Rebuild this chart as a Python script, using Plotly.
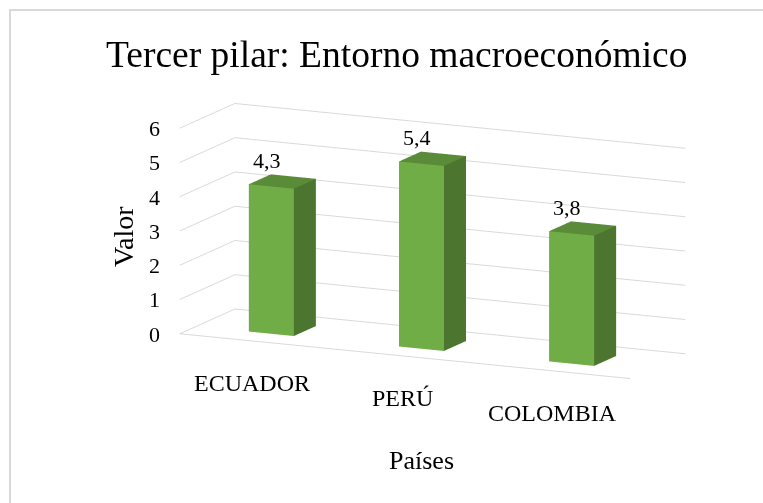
import math
import plotly.graph_objects as go

# ---- data ----
categories = ["ECUADOR", "PERÚ", "COLOMBIA"]
values = [4.3, 5.4, 3.8]
z_ticks = [0, 1, 2, 3, 4, 5, 6]

FRONT = "#70AD47"
SIDE = "#4C7530"
TOP = "#5A8B38"
FONT = "Liberation Serif, Times New Roman, serif"

bar_half = 0.15
depth0, depth1 = 0.3, 0.7

fig = go.Figure()

for i, v in enumerate(values):
    x0, x1 = i - bar_half, i + bar_half
    y0, y1 = depth0, depth1
    xs = [x0, x1, x1, x0, x0, x1, x1, x0]
    ys = [y0, y0, y1, y1, y0, y0, y1, y1]
    zs = [0, 0, 0, 0, v, v, v, v]
    I = [0, 0, 4, 4, 0, 0, 3, 3, 0, 0, 1, 1]
    J = [1, 2, 5, 6, 1, 5, 2, 6, 3, 7, 2, 6]
    K = [2, 3, 6, 7, 5, 4, 6, 7, 7, 4, 6, 5]
    fc = [FRONT, FRONT, TOP, TOP, FRONT, FRONT, SIDE, SIDE, SIDE, SIDE, SIDE, SIDE]
    fig.add_trace(go.Mesh3d(
        x=xs, y=ys, z=zs, i=I, j=J, k=K, facecolor=fc,
        flatshading=True,
        lighting=dict(ambient=1, diffuse=0, specular=0, roughness=1, fresnel=0),
        hoverinfo="skip", showscale=False,
    ))

alpha = math.radians(25.2)
beta = math.radians(12.2)
k = 2.5
eye = dict(x=k * math.cos(beta) * math.sin(alpha),
           y=-k * math.cos(beta) * math.cos(alpha),
           z=k * math.sin(beta))

s = 2.75
axis_common = dict(showbackground=False, showspikes=False, title=dict(text=""),
                   zeroline=False, showticklabels=False, ticks="")

txt = dict(family=FONT, color="#000000")
scene_ann = []
for t in z_ticks:
    scene_ann.append(dict(x=-0.5, y=0, z=t, text=str(t), showarrow=False,
                          xanchor="right", yanchor="middle", xshift=-17,
                          font=dict(txt, size=22)))
for i, c in enumerate(categories):
    scene_ann.append(dict(x=i, y=0, z=0, text=c, showarrow=False,
                          xanchor="center", yanchor="top", yshift=-26, xshift=-2,
                          font=dict(txt, size=24)))
for i, v in enumerate(values):
    scene_ann.append(dict(x=i, y=depth0, z=v, text=f"{v:.1f}".replace(".", ","),
                          showarrow=False, xanchor="center", yanchor="bottom", yshift=12,
                          xshift=-4, font=dict(txt, size=22)))

fig.update_layout(
    width=763, height=503,
    margin=dict(l=0, r=0, t=0, b=0),
    paper_bgcolor="white",
    showlegend=False,
    title=dict(text="Tercer pilar: Entorno macroeconómico",
               font=dict(family=FONT, size=37.5, color="#000000"),
               x=0.52, xanchor="center", y=0.866, yanchor="bottom"),
    scene=dict(
        domain=dict(x=[0.154, 0.979], y=[0.16, 0.88]),
        aspectmode="manual",
        aspectratio=dict(x=1.0 * s, y=0.26 * s, z=0.4225 * s),
        camera=dict(eye=eye, up=dict(x=0, y=0, z=1), center=dict(x=0, y=0, z=0),
                    projection=dict(type="orthographic")),
        xaxis=dict(axis_common, range=[-0.5, 2.5], showgrid=False,
                   showline=True, linecolor="#d9d9d9", linewidth=2),
        yaxis=dict(axis_common, range=[0, 1], showgrid=False, showline=False),
        zaxis=dict(axis_common, range=[0, 6], tickvals=z_ticks, showgrid=True,
                   gridcolor="#d9d9d9", gridwidth=2, showline=False),
        annotations=scene_ann,
    ),
    annotations=[
        dict(text="Valor", x=123 / 763, y=1 - 237 / 503, xref="paper", yref="paper",
             xanchor="center", yanchor="middle",
             textangle=-90, showarrow=False,
             font=dict(family=FONT, size=28, color="#000000")),
        dict(text="Países", x=421 / 763, y=1 - 460 / 503, xref="paper", yref="paper",
             xanchor="center", yanchor="middle",
             showarrow=False, font=dict(family=FONT, size=26, color="#000000")),
    ],
    shapes=[
        dict(type="rect", xref="paper", yref="paper",
             x0=10 / 763, x1=1.5, y0=-0.5, y1=1 - 10 / 503,
             line=dict(color="#d9d9d9", width=2), fillcolor="rgba(0,0,0,0)", layer="below"),
    ],
)

fig.write_html("out.html", config={"displayModeBar": False},
               post_script="document.body.style.margin='0';document.body.style.overflow='hidden';")
